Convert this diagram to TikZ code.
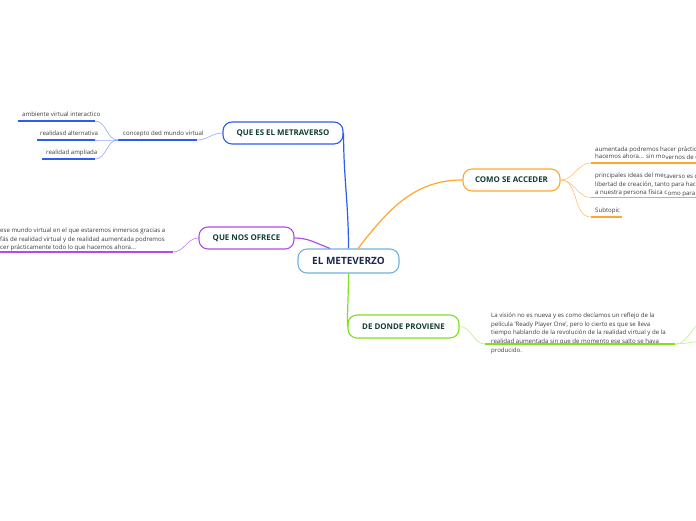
\documentclass[tikz,border=0pt]{standalone}
\usepackage{fontspec}
\setmainfont{Open Sans}
\usetikzlibrary{positioning}
\definecolor{centerblue}{HTML}{72B2E0}
\definecolor{centernavy}{HTML}{1B2A4E}
\definecolor{topicgreen}{HTML}{123D33}
\definecolor{leafgray}{HTML}{3A3A3A}
\definecolor{brblue}{HTML}{2E5CF0}
\definecolor{twblue}{HTML}{8FA8F5}
\definecolor{brpurple}{HTML}{B04CE8}
\definecolor{twpurple}{HTML}{C47CF0}
\definecolor{brorange}{HTML}{FFA630}
\definecolor{tworange}{HTML}{FFC266}
\definecolor{brgreen}{HTML}{80E01C}
\definecolor{twgreen}{HTML}{B8F07E}

\begin{document}
\begin{tikzpicture}[x=1pt, y=1pt,
    topic/.style={draw, line width=1.1pt, rounded corners=9pt, fill=white, inner sep=0pt,
      text=topicgreen, font=\bfseries\fontsize{7.9}{9}\selectfont},
    leaf/.style={inner sep=0pt, text=leafgray, font=\fontsize{6.1}{8.6}\selectfont, align=left},
    branch/.style={line width=1.2pt},
    twig/.style={line width=0.6pt},
    uline/.style={line width=1.7pt}]
    \useasboundingbox (0,0) rectangle (696,-520);
    % central topic and main topics
        \node[topic, draw=centerblue, text=centernavy, minimum width=101pt, minimum height=24pt,
          font=\bfseries\fontsize{10}{12}\selectfont] (meta) at (348.5,-261) {EL METEVERZO};
        \node[topic, draw=brblue, minimum width=120pt, minimum height=22pt] (quees) at (283,-133) {QUE ES EL METRAVERSO};
        \node[topic, draw=brpurple, minimum width=95pt, minimum height=22pt] (ofrece) at (246.5,-238) {QUE NOS OFRECE};
        \node[topic, draw=brorange, minimum width=97pt, minimum height=22pt] (acceder) at (511.5,-180) {COMO SE ACCEDER};
        \node[topic, draw=brgreen, minimum width=111pt, minimum height=23pt] (proviene) at (403.5,-326.5) {DE DONDE PROVIENE};
    % main branches
        \draw[branch, brblue] (meta.north) to[out=90, in=-90] (quees.east);
        \draw[branch, brpurple] ([xshift=-18.5pt]meta.north) to[out=160, in=0] (ofrece.east);
        \draw[branch, brorange] ([xshift=9.5pt]meta.north) to[out=52, in=180] (acceder.west);
        \draw[branch, brgreen] (meta.south) to[out=-90, in=90] (proviene.west);
    % QUE ES EL METRAVERSO
        \node[leaf, anchor=base west] (concepto) at (123,-135.5) {concepto ded mundo virtual};
        \draw[uline, brblue] (118,-140) coordinate (concepto-l) -- (197,-140) coordinate (concepto-r);
        \node[leaf, anchor=base west] (ambiente) at (22,-116.2) {ambiente virtual interactico};
        \draw[uline, brblue] (18,-121) coordinate (ambiente-l) -- (95,-121) coordinate (ambiente-r);
        \node[leaf, anchor=base west] (alterna) at (40,-135.2) {realidasd alternativa};
        \draw[uline, brblue] (37,-140) coordinate (alterna-l) -- (95,-140) coordinate (alterna-r);
        \node[leaf, anchor=base west] (ampliada) at (46,-154.2) {realidad ampliada};
        \draw[uline, brblue] (42,-159) coordinate (ampliada-l) -- (95,-159) coordinate (ampliada-r);
        \draw[twig, twblue] (quees.west) to[out=180, in=0] (concepto-r);
        \foreach \n in {ambiente, alterna, ampliada}
            \draw[twig, twblue] (concepto-l) to[out=180, in=0] (\n-r);
    % QUE NOS OFRECE
        \node[leaf, anchor=north west] (mundo) at (0,-227.6) {ese mundo virtual en el que estaremos inmersos gracias a\\
          fás de realidad virtual y de realidad aumentada podremos\\
          cer prácticamente todo lo que hacemos ahora...};
        \draw[uline, brpurple] (0,-252) coordinate (mundo-l) -- (173,-252) coordinate (mundo-r);
        \draw[twig, twpurple] (ofrece.west) to[out=180, in=0] (mundo-r);
    % COMO SE ACCEDER
        \node[leaf, anchor=base west] (podremos) at (595,-151) {aumentada podremos hacer práctica};
        \node[leaf, anchor=base west] (ahora) at (595,-158.3) {hacemos ahora... sin mo};
        \node[leaf, anchor=base west] (movernos) at ([yshift=-1.5pt]ahora.base east) {vernos de c};
        \draw[uline, brorange] (591,-163) coordinate (podremos-l) -- (700,-163);
        \node[leaf, anchor=base west] (ideas) at (595,-177) {principales ideas del me};
        \node[leaf, anchor=base west] (taverso) at ([yshift=-1.5pt]ideas.base east) {taverso es q};
        \node[leaf, anchor=base west] (libertad) at (595,-186) {libertad de creación, tanto para hace};
        \node[leaf, anchor=base west] (persona) at (595,-194) {a nuestra persona física c};
        \node[leaf, anchor=base west] (omo) at ([yshift=-1.5pt]persona.base east) {omo para c};
        \draw[uline, brorange] (591,-197.5) coordinate (ideas-l) -- (700,-197.5);
        \node[leaf, anchor=base west] (subtopic) at (595,-212) {Subtopic};
        \draw[uline, brorange] (591,-217) coordinate (subtopic-l) -- (622,-217);
        \foreach \n in {podremos, ideas, subtopic}
            \draw[twig, tworange] (acceder.east) to[out=0, in=180] (\n-l);
    % DE DONDE PROVIENE
        \node[leaf, anchor=north west] (vision) at (491,-312.8) {La visión no es nueva y es como decíamos un reflejo de la\\
          película 'Ready Player One', pero lo cierto es que se lleva\\
          tiempo hablando de la revolución de la realidad virtual y de la\\
          realidad aumentada sin que de momento ese salto se haya\\
          producido.};
        \draw[uline, brgreen] (485,-344) coordinate (vision-l) -- (675,-344) coordinate (vision-r);
        \coordinate (offa) at (706,-322);
        \coordinate (offb) at (706,-341);
        \draw[twig, twgreen] (proviene.east) to[out=0, in=180] (vision-l);
        \draw[twig, twgreen] (vision-r) to[out=0, in=180] (offa);
        \draw[twig, twgreen] (vision-r) to[out=0, in=180] (offb);
\end{tikzpicture}
\end{document}
